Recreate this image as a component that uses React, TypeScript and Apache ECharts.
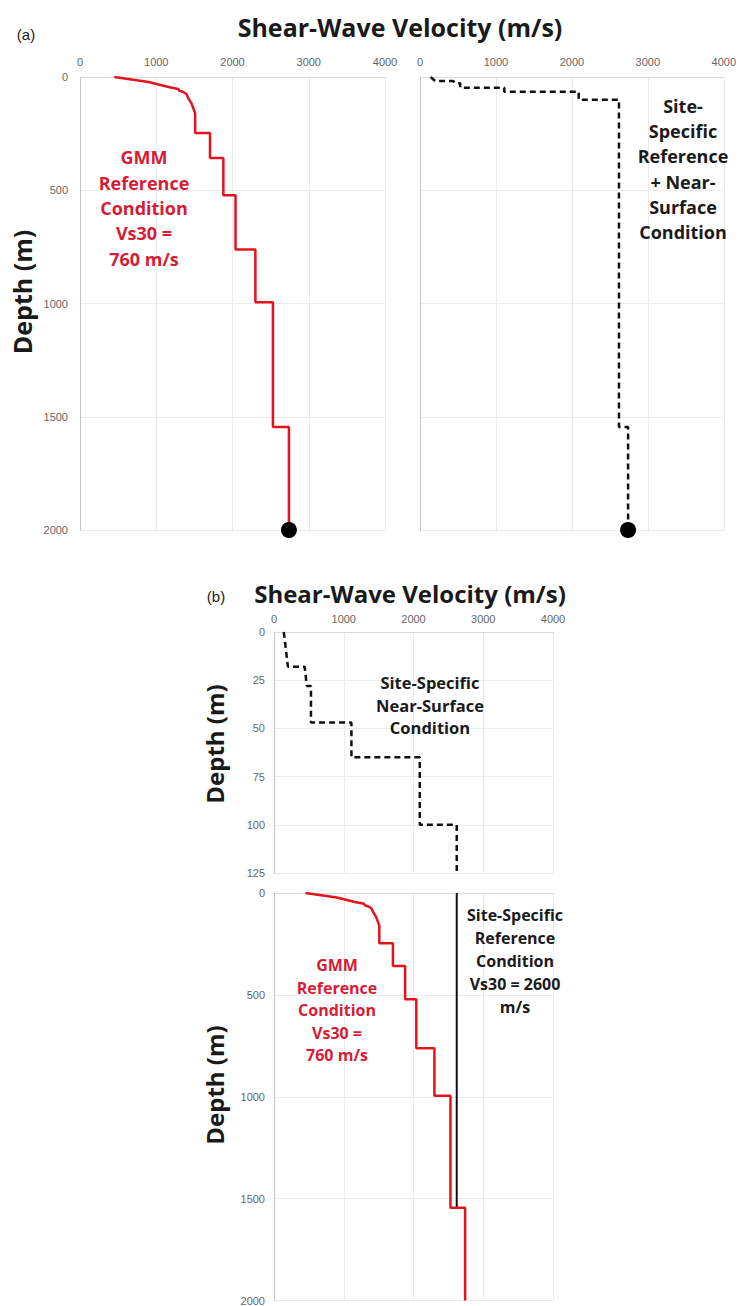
import React, { useEffect, useRef } from "react";
import * as echarts from "echarts";

// ---- axis ticks ----
const velocityTicks = [0, 1000, 2000, 3000, 4000];
const deepDepthTicks = [0, 500, 1000, 1500, 2000];
const shallowDepthTicks = [0, 25, 50, 75, 100, 125];

// ---- GMM reference condition profile (Vs30 = 760 m/s), vertices: depth (m) / Vs (m/s) ----
const gmmDepth = [0, 22, 44, 53, 60, 66, 75, 93, 115, 137, 160, 247, 247, 358, 358, 522, 522, 762, 762, 995, 995, 1545];
const gmmVs = [450, 900, 1160, 1290, 1300, 1355, 1395, 1420, 1460, 1485, 1510, 1510, 1705, 1705, 1880, 1880, 2040, 2040, 2300, 2300, 2530, 2530];

// ---- site-specific near-surface condition ----
const nearDepth = [0, 18, 18, 28, 28, 47, 47, 65, 65, 100, 100, 125];
const nearVs = [140, 200, 440, 470, 530, 530, 1110, 1110, 2090, 2090, 2620, 2620];

// ---- site-specific reference condition (Vs30 = 2600 m/s) ----
const refDepth = [0, 1545];
const refVs = [2620, 2620];

// ---- common deep base ----
const baseDepth = [1545, 2000];
const baseVs = [2740, 2740];

const zip = (vs: number[], d: number[]) => vs.map((v, i) => [v, d[i]]);

const RED = "#e4141f";
const RED_TEXT = "#d71c35";
const BLACK = "#111111";

export default function App() {
  const ref = useRef<HTMLDivElement>(null);

  useEffect(() => {
    if (!ref.current) return;
    const chart = echarts.init(ref.current, undefined, { renderer: "svg" });

    const gmmPts = zip(gmmVs, gmmDepth);
    const basePts = zip(baseVs, baseDepth);
    const nearPts = zip(nearVs, nearDepth);
    const refPts = zip(refVs, refDepth);
    const gmmFull = gmmPts.concat(basePts);
    const nearSurfBottom = nearDepth[nearDepth.length - 3];
    const combined = nearPts
      .filter((p) => p[1] <= nearSurfBottom)
      .concat(refPts.filter((p) => p[1] > nearSurfBottom))
      .concat(basePts);
    const bottomPt = basePts[basePts.length - 1];

    const labelStyle = {
      fontFamily: "Liberation Sans",
      fontSize: 11,
      color: "#666666",
      formatter: (v: number) => String(v),
    };
    const split = { show: true, lineStyle: { color: "#ebebeb", width: 1 } };

    const xAx = (gridIndex: number, showLabels: boolean, margin: number) => ({
      type: "value",
      gridIndex,
      position: "top",
      min: velocityTicks[0],
      max: velocityTicks[velocityTicks.length - 1],
      interval: velocityTicks[1] - velocityTicks[0],
      axisLine: { show: true, lineStyle: { color: "#d9d9d9", width: 1 } },
      axisTick: { show: false },
      axisLabel: { show: showLabels, margin, ...labelStyle },
      splitLine: split,
    });
    const yAx = (gridIndex: number, ticks: number[], showLabels: boolean, margin: number) => ({
      type: "value",
      gridIndex,
      inverse: true,
      min: ticks[0],
      max: ticks[ticks.length - 1],
      interval: ticks[1] - ticks[0],
      axisLine: { show: true, lineStyle: { color: "#c4c4c4", width: 1 } },
      axisTick: { show: false },
      axisLabel: { show: showLabels, margin, ...labelStyle },
      splitLine: split,
    });

    const txt = (
      x: number,
      y: number,
      text: string,
      size: number,
      fill: string,
      lineHeight?: number,
      rotation = 0,
      weight = "bold",
      family = "Open Sans"
    ) => ({
      type: "text",
      x,
      y,
      rotation,
      z: 100,
      style: {
        text,
        fontSize: size,
        fontWeight: weight,
        fontFamily: family,
        fill,
        align: "center",
        verticalAlign: "middle",
        lineHeight: lineHeight || size * 1.2,
      },
    });

    const dot = {
      symbolSize: 16,
      itemStyle: { color: "#000000", opacity: 1 },
      clip: false,
      z: 5,
    };

    const option = {
      animation: false,
      backgroundColor: "#ffffff",
      grid: [
        { left: 80, top: 77, width: 305, height: 453 },
        { left: 420, top: 77, width: 307, height: 453 },
        { left: 274, top: 632, width: 279, height: 241 },
        { left: 274, top: 893, width: 279, height: 409 },
      ],
      xAxis: [xAx(0, true, 10), xAx(1, true, 10), xAx(2, true, 8), xAx(3, false, 8)],
      yAxis: [
        yAx(0, deepDepthTicks, true, 12),
        yAx(1, deepDepthTicks, false, 12),
        yAx(2, shallowDepthTicks, true, 9),
        yAx(3, deepDepthTicks, true, 9),
      ],
      series: [
        {
          type: "line",
          xAxisIndex: 0,
          yAxisIndex: 0,
          data: gmmFull,
          showSymbol: false,
          lineStyle: { color: RED, width: 2.5 },
          clip: false,
        },
        { type: "scatter", xAxisIndex: 0, yAxisIndex: 0, data: [bottomPt], ...dot },
        {
          type: "line",
          xAxisIndex: 1,
          yAxisIndex: 1,
          data: combined,
          showSymbol: false,
          lineStyle: { color: BLACK, width: 2.5, type: [6, 4] },
          clip: false,
        },
        { type: "scatter", xAxisIndex: 1, yAxisIndex: 1, data: [bottomPt], ...dot },
        {
          type: "line",
          xAxisIndex: 2,
          yAxisIndex: 2,
          data: nearPts,
          showSymbol: false,
          lineStyle: { color: BLACK, width: 2.5, type: [6, 4] },
          clip: false,
        },
        {
          type: "line",
          xAxisIndex: 3,
          yAxisIndex: 3,
          data: refPts,
          showSymbol: false,
          lineStyle: { color: BLACK, width: 2 },
          clip: false,
        },
        {
          type: "line",
          xAxisIndex: 3,
          yAxisIndex: 3,
          data: gmmFull,
          showSymbol: false,
          lineStyle: { color: RED, width: 2.5 },
          clip: false,
        },
      ],
      graphic: [
        txt(26, 34, "(a)", 15, "#222", undefined, 0, "normal", "Liberation Sans"),
        txt(400, 27, "Shear-Wave Velocity (m/s)", 25, "#1a1a1a"),
        txt(22, 292, "Depth (m)", 25, "#1a1a1a", undefined, Math.PI / 2),
        txt(144, 208, "GMM\nReference\nCondition\nVs30 =\n760 m/s", 18, RED_TEXT, 25.3),
        txt(683, 169, "Site-\nSpecific\nReference\n+ Near-\nSurface\nCondition", 18, "#1a1a1a", 25.3),
        txt(216, 596, "(b)", 15, "#222", undefined, 0, "normal", "Liberation Sans"),
        txt(410, 593, "Shear-Wave Velocity (m/s)", 24, "#1a1a1a"),
        txt(214, 744, "Depth (m)", 24, "#1a1a1a", undefined, Math.PI / 2),
        txt(430, 705, "Site-Specific\nNear-Surface\nCondition", 16.5, "#1a1a1a", 22.5),
        txt(214, 1085, "Depth (m)", 24, "#1a1a1a", undefined, Math.PI / 2),
        txt(515, 961, "Site-Specific\nReference\nCondition\nVs30 = 2600\nm/s", 16, "#1a1a1a", 23),
        txt(337, 1010, "GMM\nReference\nCondition\nVs30 =\n760 m/s", 16, RED_TEXT, 22.5),
      ],
    };

    chart.setOption(option as any);
    return () => chart.dispose();
  }, []);

  return (
    <div
      ref={ref}
      style={{ position: "absolute", left: 0, top: 0, width: 739, height: 1306, background: "#fff" }}
    />
  );
}
